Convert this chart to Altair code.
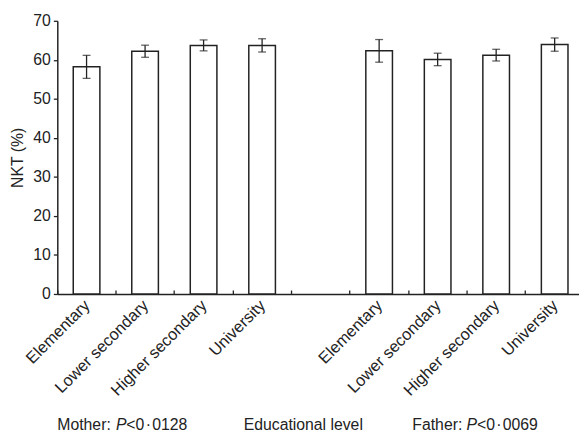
import altair as alt
import pandas as pd

levels = ["Elementary", "Lower secondary", "Higher secondary", "University"]
mother_mean = [58.2, 62.2, 63.7, 63.7]
mother_se = [2.95, 1.55, 1.4, 1.7]
father_mean = [62.3, 60.1, 61.2, 63.9]
father_se = [2.9, 1.6, 1.5, 1.7]

keys = (["Mother|" + l for l in levels] + ["gap|"] + ["Father|" + l for l in levels])

rows = []
for l, m, s in zip(levels, mother_mean, mother_se):
    rows.append({"key": "Mother|" + l, "mean": m, "low": m - s, "high": m + s})
for l, m, s in zip(levels, father_mean, father_se):
    rows.append({"key": "Father|" + l, "mean": m, "low": m - s, "high": m + s})
df = pd.DataFrame(rows)

FONT = "Liberation Sans"
INK = "#222222"

xscale = alt.Scale(domain=keys, range=[0, 534], paddingInner=0, paddingOuter=0)
yscale = alt.Scale(domain=[0, 70], nice=False)
yaxis = alt.Axis(values=list(range(0, 71, 10)), grid=False, tickSize=4, labelPadding=3,
                 labelFontSize=16, labelFont=FONT, labelColor=INK, title="NKT (%)",
                 titleFontSize=16, titleFont=FONT, titleFontWeight="normal", titleColor=INK,
                 titlePadding=7, domainColor=INK, domainWidth=1.5, tickColor=INK, tickWidth=1.3)

base = alt.Chart(df)

bars = base.mark_bar(fill="white", stroke=INK, strokeWidth=1.5,
                     width=alt.RelativeBandSize(0.455)).encode(
    x=alt.X("key:N", scale=xscale, sort=keys,
            axis=alt.Axis(orient="bottom", ticks=False, domain=True, domainColor=INK,
                          domainWidth=1.5, labelExpr="split(datum.label, '|')[1]",
                          labelAngle=-45, labelAlign="right", labelBaseline="top",
                          labelFontSize=16.5, labelFont=FONT, labelColor=INK,
                          labelPadding=3, labelOffset=-5, title=None, grid=False)),
    y=alt.Y("mean:Q", scale=yscale, axis=yaxis),
)

rules = base.mark_rule(color=INK, strokeWidth=1.3).encode(
    x=alt.X("key:N", scale=xscale, sort=keys,
            axis=alt.Axis(orient="bottom", bandPosition=0, labels=False, domain=False,
                          ticks=True, tickSize=4, tickColor=INK, tickWidth=1.3,
                          offset=-4, title=None, grid=False)),
    y=alt.Y("low:Q", scale=yscale, axis=yaxis),
    y2="high:Q",
)

cap_lo = base.mark_tick(color=INK, thickness=1.3, size=8, orient="horizontal").encode(
    x=alt.X("key:N", scale=xscale, sort=keys, axis=None),
    y=alt.Y("low:Q", scale=yscale, axis=yaxis),
)
cap_hi = base.mark_tick(color=INK, thickness=1.3, size=8, orient="horizontal").encode(
    x=alt.X("key:N", scale=xscale, sort=keys, axis=None),
    y=alt.Y("high:Q", scale=yscale, axis=yaxis),
)

notes = [
    ("Mother: ", 0, "normal"),
    ("P", 59.5, "italic"),
    ("<0\u200a\u00b7\u200a0128", 70, "normal"),
    ("Educational level", 189, "normal"),
    ("Father: ", 360, "normal"),
    ("P", 415, "italic"),
    ("<0\u200a\u00b7\u200a0069", 425.5, "normal"),
]
text_layers = []
for t, px, style in notes:
    text_layers.append(
        alt.Chart(pd.DataFrame({"t": [t]})).mark_text(
            align="left", baseline="alphabetic", fontSize=16, font=FONT,
            fontStyle=style, color=INK
        ).encode(text="t:N", x=alt.value(px), y=alt.value(415))
    )

chart = alt.layer(bars, rules, cap_lo, cap_hi, *text_layers).resolve_axis(
    x="independent"
).properties(
    width=529, height=277,
    autosize=alt.AutoSizeParams(type="none"),
    padding={"left": 50, "top": 10, "right": 0, "bottom": 139},
).configure_view(stroke=None)

chart.save("out.html", embed_options={"renderer": "svg", "actions": False})
